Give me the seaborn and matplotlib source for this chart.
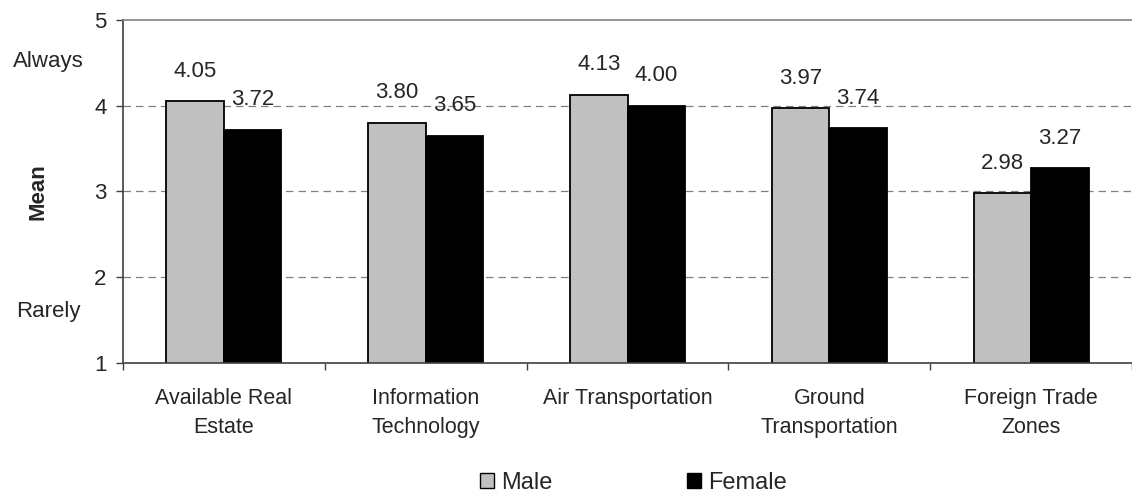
import numpy as np
import pandas as pd
import matplotlib
matplotlib.use("Agg")
import matplotlib.pyplot as plt
import matplotlib.transforms as mtransforms
from matplotlib.patches import Patch
import seaborn as sns

# chart data
categories = ["Available Real\nEstate", "Information\nTechnology", "Air Transportation",
              "Ground\nTransportation", "Foreign Trade\nZones"]
male = [4.05, 3.80, 4.13, 3.97, 2.98]
female = [3.72, 3.65, 4.00, 3.74, 3.27]
groups = ["Male", "Female"]
colors = {"Male": "#C0C0C0", "Female": "#000000"}

df = pd.DataFrame({"Category": categories * 2,
                   "Group": ["Male"] * 5 + ["Female"] * 5,
                   "Mean": male + female})

sns.set_style("white")
plt.rcParams["font.family"] = ["Liberation Sans", "DejaVu Sans"]

fs = 16

fig = plt.figure(figsize=(11.32, 4.95), dpi=100)
ax = fig.add_axes([0.1087, 0.2667, 0.8913, 0.693])

sns.barplot(data=df, x="Category", y="Mean", hue="Group", hue_order=groups,
            palette=colors, width=0.57, edgecolor="black", linewidth=1.3,
            legend=False, ax=ax)

ax.set_ylim(1, 5)
ax.set_xlim(-0.5, 4.5)
ax.set_yticks([1, 2, 3, 4, 5])
ax.tick_params(axis="y", labelsize=fs, length=5, width=1, color="#404040", pad=7, direction="out")
ax.tick_params(axis="x", which="major", length=0, labelsize=15.5, pad=18)
ax.set_xticks(np.arange(-0.5, 5, 1), minor=True)
ax.tick_params(axis="x", which="minor", length=5, width=1, color="#404040", direction="out")
ax.yaxis.set_ticks_position("left")
ax.xaxis.set_ticks_position("bottom")
ax.set_xlabel("")
for lbl in ax.get_xticklabels():
    lbl.set_linespacing(1.5)

# dashed grid lines
for y in [2, 3, 4]:
    ax.axhline(y, color="#808080", linestyle=(0, (6, 4)), linewidth=0.9, zorder=0)

ax.spines["right"].set_visible(False)
ax.spines["top"].set_color("#808080")
ax.spines["left"].set_color("#404040")
ax.spines["bottom"].set_color("#404040")
for s in ["top", "left", "bottom"]:
    ax.spines[s].set_linewidth(1.2)

# value labels
for cont in ax.containers:
    for bar in cont:
        h = bar.get_height()
        ax.annotate(f"{h:.2f}", (bar.get_x() + bar.get_width() / 2, h),
                    xytext=(0, 14), textcoords="offset points",
                    ha="center", va="bottom", fontsize=fs)

ax.set_ylabel("Mean", fontsize=fs, fontweight="bold")
ax.yaxis.set_label_coords(-0.074, 0.5)

trans = mtransforms.blended_transform_factory(fig.transFigure, ax.transData)
ax.text(0.0424, 4.51, "Always", transform=trans, ha="center", va="center", fontsize=fs)
ax.text(0.0424, 1.6, "Rarely", transform=trans, ha="center", va="center", fontsize=fs)

handles = [Patch(facecolor=colors[g], edgecolor="black", linewidth=1) for g in groups]
fig.legend(handles, groups, loc="center left", bbox_to_anchor=(0.424, 0.024), ncol=2,
           frameon=False, fontsize=17, handlelength=0.6, handleheight=0.6,
           handletextpad=0.3, columnspacing=5.7, borderpad=0, borderaxespad=0)

plt.savefig("out.png", dpi=100)
